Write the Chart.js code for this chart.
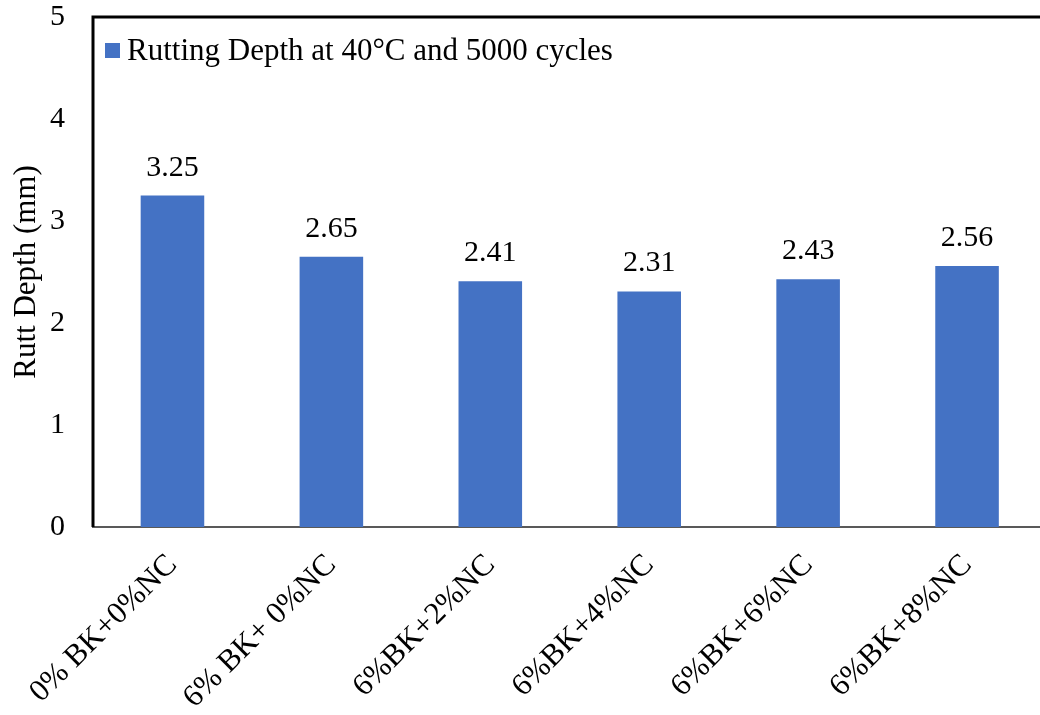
<!DOCTYPE html>
<html>
<head>
<meta charset="utf-8">
<script src="https://cdn.jsdelivr.net/npm/chart.js@4.4.1/dist/chart.umd.min.js"></script>
<style>
  html, body { margin: 0; padding: 0; background: #fff; overflow: hidden; }
  #wrap { position: relative; width: 1050px; height: 715px; }
</style>
</head>
<body>
<div id="wrap"><canvas id="rutChart"></canvas></div>
<script>
// ---- data ----
const categories = ['0% BK+0%NC', '6% BK+ 0%NC', '6%BK+2%NC', '6%BK+4%NC', '6%BK+6%NC', '6%BK+8%NC'];
const rutDepth = [3.25, 2.65, 2.41, 2.31, 2.43, 2.56];
const seriesName = 'Rutting Depth at 40°C and 5000 cycles';
const yTicks = [0, 1, 2, 3, 4, 5];

const FONT = "'Liberation Serif', 'Times New Roman', serif";
const BAR = '#4472c4';

// frame: thick black top + left edge of plot area
const framePlugin = {
  id: 'frame',
  afterDraw(chart) {
    const { ctx, chartArea: a } = chart;
    ctx.save();
    ctx.strokeStyle = '#000';
    ctx.lineWidth = 3;
    ctx.beginPath();
    ctx.moveTo(a.left, a.bottom);
    ctx.lineTo(a.left, a.top);
    ctx.lineTo(a.right + 10, a.top);
    ctx.stroke();
    ctx.restore();
  }
};

// value labels above the bars
const valueLabels = {
  id: 'valueLabels',
  afterDatasetsDraw(chart) {
    const { ctx } = chart;
    ctx.save();
    ctx.font = '30px ' + FONT;
    ctx.fillStyle = '#000';
    ctx.textAlign = 'center';
    ctx.textBaseline = 'alphabetic';
    chart.getDatasetMeta(0).data.forEach((bar, i) => {
      ctx.fillText(rutDepth[i].toFixed(2), bar.x, bar.y - 20);
    });
    ctx.restore();
  }
};

// legend inside the plot, top-left
const innerLegend = {
  id: 'innerLegend',
  afterDraw(chart) {
    const { ctx, chartArea: a } = chart;
    ctx.save();
    ctx.fillStyle = BAR;
    ctx.fillRect(a.left + 12, a.top + 26, 15, 15);
    ctx.font = '31px ' + FONT;
    ctx.fillStyle = '#000';
    ctx.textBaseline = 'middle';
    ctx.fillText(seriesName, a.left + 34, a.top + 35);
    ctx.restore();
  }
};

const noPad = (s) => {
  s.paddingTop = 0; s.paddingBottom = 0; s.paddingLeft = 0; s.paddingRight = 0;
};

new Chart(document.getElementById('rutChart'), {
  type: 'bar',
  data: {
    labels: categories,
    datasets: [{
      label: seriesName,
      data: rutDepth,
      backgroundColor: BAR,
      categoryPercentage: 1,
      barPercentage: 0.4,
    }],
  },
  options: {
    responsive: true,
    maintainAspectRatio: false,
    animation: false,
    layout: { padding: { top: 17, right: 3.5, left: 0, bottom: 0 } },
    plugins: {
      legend: { display: false },
      tooltip: { enabled: false },
    },
    scales: {
      x: {
        grid: { display: false, drawTicks: false },
        border: { display: true, color: '#595959', width: 2 },
        ticks: {
          autoSkip: false,
          minRotation: 45,
          maxRotation: 45,
          padding: 20,
          color: '#000',
          font: { family: FONT, size: 31 },
        },
        afterFit: (s) => { s.height = 188; noPad(s); },
      },
      y: {
        min: 0,
        max: 5,
        grid: { display: false, drawTicks: false },
        border: { display: false },
        afterBuildTicks: (s) => { s.ticks = yTicks.map(v => ({ value: v })); },
        ticks: {
          padding: 28,
          color: '#000',
          font: { family: FONT, size: 30 },
        },
        title: {
          display: true,
          text: 'Rutt Depth (mm)',
          color: '#000',
          font: { family: FONT, size: 31 },
          padding: { top: 8, bottom: 0 },
        },
        afterFit: (s) => { s.width = 93; noPad(s); },
      },
    },
  },
  plugins: [framePlugin, valueLabels, innerLegend],
});
</script>
</body>
</html>
